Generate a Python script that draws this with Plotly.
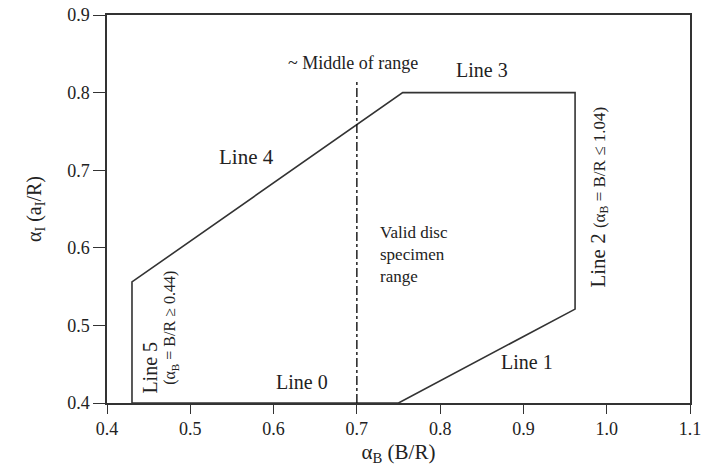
import plotly.graph_objects as go

# Boundary polygon of valid disc specimen range (Lines 5,4,3,2,1,0)
boundary_x = [0.43, 0.43, 0.755, 0.962, 0.962, 0.75, 0.43]
boundary_y = [0.40, 0.556, 0.80, 0.80, 0.521, 0.40, 0.40]

# Middle of range dash-dot line
middle_x = [0.70, 0.70]
middle_y = [0.40, 0.815]

x_ticks = [0.4, 0.5, 0.6, 0.7, 0.8, 0.9, 1.0, 1.1]
x_ticklabels = ["0.4", "0.5", "0.6", "0.7", "0.8", "0.9", "1.0", "1.1"]
y_ticks = [0.4, 0.5, 0.6, 0.7, 0.8, 0.9]
y_ticklabels = ["0.4", "0.5", "0.6", "0.7", "0.8", "0.9"]

FONT = "Liberation Serif, Times New Roman, serif"
INK = "#222222"

fig = go.Figure()
fig.add_trace(go.Scatter(x=boundary_x, y=boundary_y, mode="lines",
                         line=dict(color="#333333", width=1.6),
                         cliponaxis=False, showlegend=False, hoverinfo="skip"))
fig.add_trace(go.Scatter(x=middle_x, y=middle_y, mode="lines",
                         line=dict(color="#111111", width=1.4, dash="dashdot"),
                         showlegend=False, hoverinfo="skip"))

ann = [
    dict(x=0.695, y=0.838, text="~ Middle of range", size=18),
    dict(x=0.850, y=0.829, text="Line 3", size=20),
    dict(x=0.568, y=0.717, text="Line 4", size=21),
    dict(x=0.904, y=0.453, text="Line 1", size=20),
    dict(x=0.634, y=0.427, text="Line 0", size=20),
]
annotations = []
for a in ann:
    annotations.append(dict(x=a["x"], y=a["y"], xref="x", yref="y", text=a["text"],
                            showarrow=False, font=dict(family=FONT, size=a["size"], color=INK)))

annotations.append(dict(x=0.725, y=0.592, xref="x", yref="y",
                        text="Valid disc<br>specimen<br>range", align="left",
                        xanchor="left", showarrow=False,
                        font=dict(family=FONT, size=17, color=INK)))
annotations.append(dict(x=0.991, y=0.665, xref="x", yref="y", textangle=-90,
                        text="Line 2 <span style='font-size:17px'>(α<sub>B</sub> = B/R ≤ 1.04)</span>",
                        showarrow=False, font=dict(family=FONT, size=21, color=INK)))
annotations.append(dict(x=0.452, y=0.446, xref="x", yref="y", textangle=-90,
                        text="Line 5", showarrow=False,
                        font=dict(family=FONT, size=20, color=INK)))
annotations.append(dict(x=0.477, y=0.497, xref="x", yref="y", textangle=-90,
                        text="(α<sub>B</sub> = B/R ≥ 0.44)", showarrow=False,
                        font=dict(family=FONT, size=16, color=INK)))

fig.update_layout(
    width=707, height=472,
    margin=dict(l=107, r=17, t=15, b=69),
    paper_bgcolor="white", plot_bgcolor="white",
    font=dict(family=FONT, size=18, color=INK),
    annotations=annotations,
    hovermode=False,
    xaxis=dict(range=[0.4, 1.1], tickvals=x_ticks, ticktext=x_ticklabels,
               ticks="outside", ticklen=9, tickwidth=1.3, tickcolor="#333333",
               showline=True, linecolor="#333333", linewidth=1.5, mirror=True,
               showgrid=False, zeroline=False, automargin=False,
               ticklabeloverflow="allow",
               title=dict(text="α<sub>B</sub> (B/R)", font=dict(size=21), standoff=6)),
    yaxis=dict(range=[0.4, 0.9], tickvals=y_ticks, ticktext=y_ticklabels,
               ticks="outside", ticklen=12, tickwidth=1.3, tickcolor="#333333",
               showline=True, linecolor="#333333", linewidth=1.5, mirror=True,
               showgrid=False, zeroline=False, automargin=False,
               ticklabeloverflow="allow",
               title=dict(text="α<sub>I</sub> (a<sub>I</sub>/R)", font=dict(size=20), standoff=20)),
)

fig.write_html("out.html", config={"displayModeBar": False},
               post_script="document.body.style.margin='0';")
